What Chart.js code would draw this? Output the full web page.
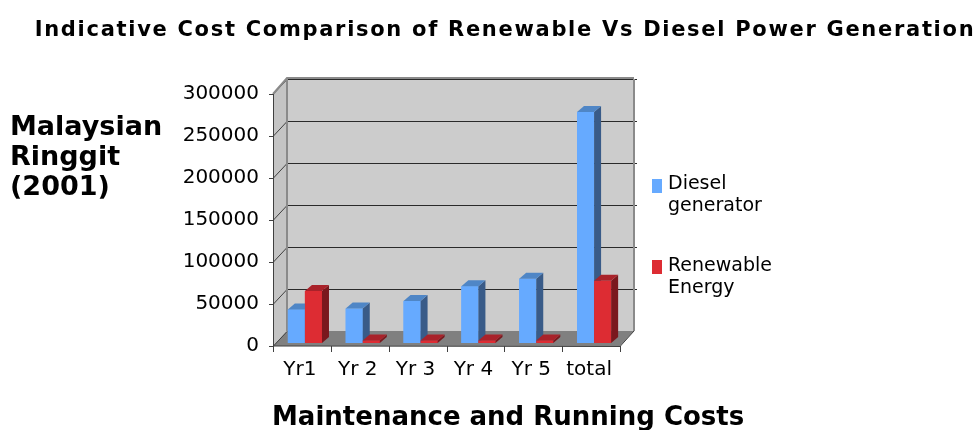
<!DOCTYPE html>
<html>
<head>
<meta charset="utf-8">
<script src="https://cdn.jsdelivr.net/npm/chart.js@4/dist/chart.umd.min.js"></script>
<style>
  body { margin: 0; background: #fff; font-family: "DejaVu Sans", sans-serif; }
  #wrap { position: relative; width: 980px; height: 430px; overflow: hidden; }
  .txt { position: absolute; white-space: nowrap; color: #000; }
  #title { left: 30px; width: 950px; top: 19px; text-align: center; font-weight: bold; font-size: 21px; line-height: 1; letter-spacing: 1.7px; }
  #ytitle { left: 10px; top: 111px; font-weight: bold; font-size: 27px; line-height: 30px; }
  #xtitle { left: 272px; top: 403px; font-weight: bold; font-size: 26px; line-height: 1; }
  .key { position: absolute; width: 10px; height: 14px; }
  .ltxt { position: absolute; left: 668px; font-size: 19px; line-height: 22px; white-space: nowrap; }
</style>
</head>
<body>
<div id="wrap">
  <canvas id="chart"></canvas>
  <div id="title" class="txt">Indicative Cost Comparison of Renewable Vs Diesel Power Generation</div>
  <div id="ytitle" class="txt">Malaysian<br>Ringgit<br>(2001)</div>
  <div id="xtitle" class="txt">Maintenance and Running Costs</div>
  <div class="key" style="left:652px; top:179px; background:#66aaff"></div>
  <div class="ltxt" style="top:171px">Diesel<br>generator</div>
  <div class="key" style="left:652px; top:260px; background:#dd2c33"></div>
  <div class="ltxt" style="top:253px">Renewable<br>Energy</div>
</div>
<script>
// cost data, Malaysian Ringgit (2001)
const categories = ["Yr1", "Yr 2", "Yr 3", "Yr 4", "Yr 5", "total"];
const seriesNames = ["Diesel generator", "Renewable Energy"];
const diesel = [40000, 41000, 50000, 67500, 76500, 275000];
const renewable = [62000, 3000, 3000, 3000, 3000, 74000];
const yTicks = [0, 50000, 100000, 150000, 200000, 250000, 300000];

// front / top / side shades for the fake 3d look
const faces = [
  { front: "#66aaff", top: "#4f86c6", side: "#395b88" },
  { front: "#dd2c33", top: "#a9222a", side: "#7a181d" }
];

// offsets of the walls relative to the bar plane
const AX = -3, AY = 3;     // front axis
const BX = 11, BY = -12;   // back wall
const DX = 7, DY = 6;      // bar depth

const walls = {
  id: "walls",
  beforeDatasetsDraw(chart) {
    const ctx = chart.ctx;
    const { left, right, top, bottom } = chart.chartArea;
    const y = chart.scales.y;
    ctx.save();
    // back wall
    ctx.fillStyle = "#cccccc";
    ctx.fillRect(left + BX, top + BY - 1, right - left, bottom - top + 1);
    // left wall
    ctx.fillStyle = "#c4c4c4";
    ctx.beginPath();
    ctx.moveTo(left + AX, top + AY);
    ctx.lineTo(left + BX, top + BY - 1);
    ctx.lineTo(left + BX, bottom + BY);
    ctx.lineTo(left + AX, bottom + AY);
    ctx.closePath();
    ctx.fill();
    // floor
    ctx.fillStyle = "#808080";
    ctx.beginPath();
    ctx.moveTo(left + AX, bottom + AY);
    ctx.lineTo(right + AX, bottom + AY);
    ctx.lineTo(right + BX, bottom + BY);
    ctx.lineTo(left + BX, bottom + BY);
    ctx.closePath();
    ctx.fill();

    // grid lines on back and left wall
    ctx.lineWidth = 1;
    y.ticks.forEach(t => {
      const py = Math.round(y.getPixelForValue(t.value)) + 0.5;
      if (t.value > 0) {
        ctx.strokeStyle = "#2a2a2a";
        ctx.beginPath();
        ctx.moveTo(left + BX, py + BY);
        ctx.lineTo(right + BX + 3, py + BY);
        ctx.stroke();
      }
      ctx.strokeStyle = "#404040";
      ctx.beginPath();
      ctx.moveTo(left + AX, py + AY);
      ctx.lineTo(left + BX, py + BY);
      ctx.stroke();
      // tick mark on front axis
      ctx.beginPath();
      ctx.moveTo(left + AX - 4, py + AY);
      ctx.lineTo(left + AX, py + AY);
      ctx.stroke();
    });

    // wall edges
    ctx.strokeStyle = "#8a8a8a";
    ctx.lineWidth = 2;
    ctx.beginPath();
    ctx.moveTo(left + BX, top + BY);
    ctx.lineTo(left + BX, bottom + BY);
    ctx.moveTo(right + BX, top + BY);
    ctx.lineTo(right + BX, bottom + BY);
    ctx.moveTo(left + AX, top + AY);
    ctx.lineTo(left + BX, top + BY - 1);
    ctx.lineTo(right + BX, top + BY - 1);
    ctx.stroke();

    // front axis lines
    ctx.strokeStyle = "#404040";
    ctx.lineWidth = 1;
    ctx.beginPath();
    ctx.moveTo(left + AX + 0.5, top + AY);
    ctx.lineTo(left + AX + 0.5, bottom + AY);
    ctx.lineTo(right + AX, bottom + AY + 0.5);
    ctx.lineTo(right + BX, bottom + BY);
    ctx.stroke();
    const catW = (right - left) / categories.length;
    for (let i = 0; i <= categories.length; i++) {
      const px = Math.round(left + i * catW + AX) + 0.5;
      ctx.beginPath();
      ctx.moveTo(px, bottom + AY);
      ctx.lineTo(px, bottom + AY + 6);
      ctx.stroke();
    }
    ctx.restore();
  }
};

const bars3d = {
  id: "bars3d",
  afterDatasetsDraw(chart) {
    const ctx = chart.ctx;
    ctx.save();
    categories.forEach((c, i) => {
      chart.data.datasets.forEach((ds, d) => {
        const el = chart.getDatasetMeta(d).data[i];
        const { x, y, base, width } = el.getProps(["x", "y", "base", "width"], true);
        const l = x - width / 2, r = x + width / 2;
        const f = faces[d];
        ctx.fillStyle = f.front;
        ctx.fillRect(l, y, width, base - y);
        ctx.fillStyle = f.side;
        ctx.beginPath();
        ctx.moveTo(r, y);
        ctx.lineTo(r + DX, y - DY);
        ctx.lineTo(r + DX, base - DY);
        ctx.lineTo(r, base);
        ctx.closePath();
        ctx.fill();
        ctx.fillStyle = f.top;
        ctx.beginPath();
        ctx.moveTo(l, y);
        ctx.lineTo(l + DX, y - DY);
        ctx.lineTo(r + DX, y - DY);
        ctx.lineTo(r, y);
        ctx.closePath();
        ctx.fill();
      });
    });
    ctx.restore();
  }
};

new Chart(document.getElementById("chart"), {
  type: "bar",
  data: {
    labels: categories,
    datasets: [
      { label: seriesNames[0], data: diesel, backgroundColor: faces[0].front },
      { label: seriesNames[1], data: renewable, backgroundColor: faces[1].front }
    ]
  },
  options: {
    responsive: true,
    maintainAspectRatio: false,
    animation: false,
    layout: { padding: { top: 91, right: 357, left: 0, bottom: 0 } },
    datasets: { bar: { barPercentage: 1, categoryPercentage: 0.59, borderWidth: 0 } },
    plugins: { legend: { display: false }, title: { display: false }, tooltip: { enabled: false } },
    scales: {
      x: {
        grid: { display: false, drawTicks: false },
        border: { display: false },
        ticks: { color: "#000", font: { family: "DejaVu Sans", size: 20 }, padding: 15, labelOffset: -5, maxRotation: 0 },
        afterFit: s => { s.height = 87; }
      },
      y: {
        min: 0,
        max: 300000,
        afterBuildTicks: s => { s.ticks = yTicks.map(v => ({ value: v })); },
        grid: { display: false, drawTicks: false },
        border: { display: false },
        ticks: { color: "#000", font: { family: "DejaVu Sans", size: 20 }, padding: 17, labelOffset: 3, callback: v => String(v) },
        afterFit: s => { s.width = 276; }
      }
    }
  },
  plugins: [walls, bars3d]
});
</script>
</body>
</html>
